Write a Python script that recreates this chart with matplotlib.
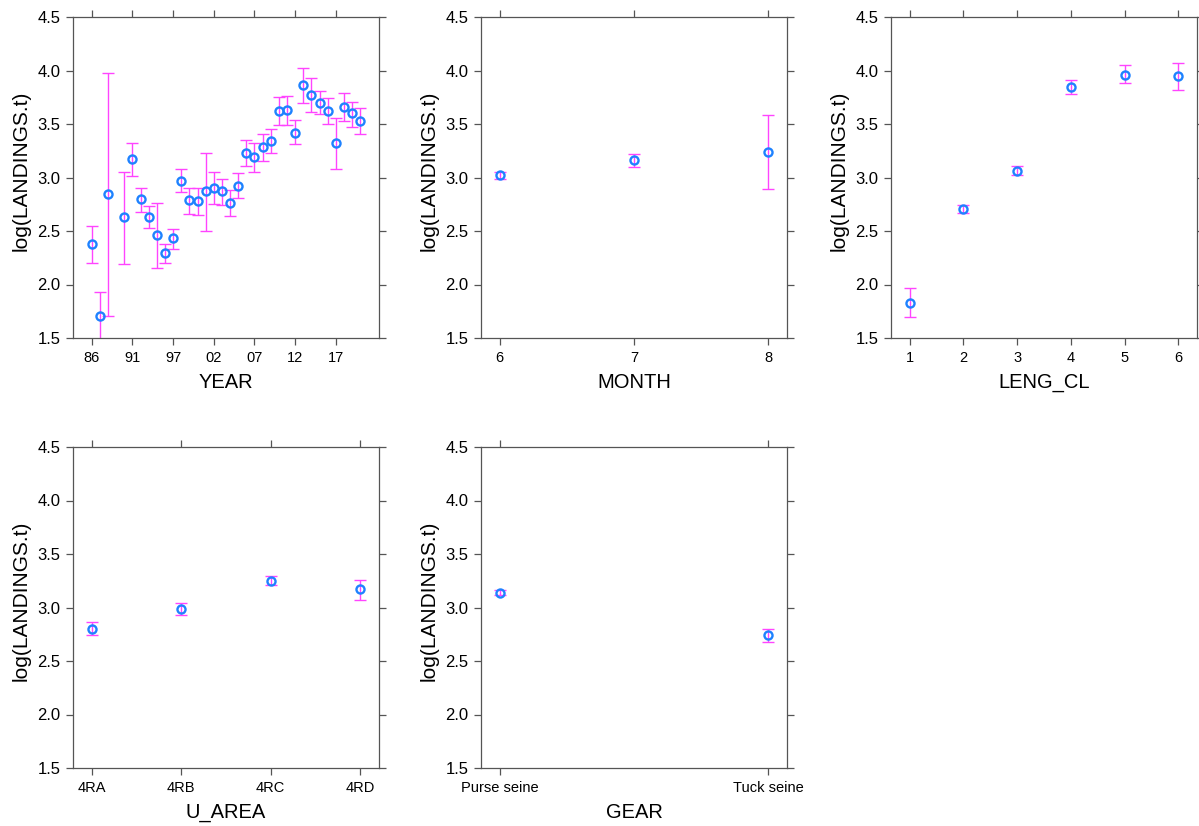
import numpy as np
import matplotlib
matplotlib.use("Agg")
import matplotlib.pyplot as plt

plt.rcParams['font.family'] = ['Liberation Sans', 'DejaVu Sans']

nan = np.nan

year_levels = ['86', '87', '88', '89', '90', '91', '93', '94', '95', '96', '97',
               '98', '99', '00', '01', '02', '03', '04', '05', '06', '07', '08',
               '09', '10', '11', '12', '13', '14', '15', '16', '17', '18', '19', '20']
year_fit = [2.38, 1.71, 2.85, nan, 2.63, 3.17, 2.80, 2.63, 2.46, 2.29, 2.43, 2.97,
            2.79, 2.78, 2.87, 2.90, 2.87, 2.76, 2.92, 3.23, 3.19, 3.285, 3.34, 3.62,
            3.63, 3.42, 3.86, 3.77, 3.70, 3.62, 3.32, 3.66, 3.60, 3.53]
year_lo = [2.20, 1.45, 1.71, nan, 2.19, 3.01, 2.68, 2.53, 2.15, 2.20, 2.33, 2.86,
           2.66, 2.65, 2.50, 2.755, 2.74, 2.64, 2.81, 3.11, 3.05, 3.155, 3.23, 3.49,
           3.49, 3.31, 3.70, 3.61, 3.59, 3.50, 3.08, 3.525, 3.47, 3.41]
year_hi = [2.55, 1.93, 3.98, nan, 3.05, 3.32, 2.90, 2.73, 2.76, 2.38, 2.52, 3.08,
           2.90, 2.90, 3.23, 3.05, 2.99, 2.88, 3.04, 3.35, 3.32, 3.41, 3.45, 3.75,
           3.765, 3.535, 4.02, 3.93, 3.81, 3.74, 3.56, 3.79, 3.71, 3.65]

month_levels = ['6', '7', '8']
month_fit = [3.02, 3.16, 3.24]
month_lo = [2.99, 3.10, 2.89]
month_hi = [3.05, 3.22, 3.58]

leng_levels = ['1', '2', '3', '4', '5', '6']
leng_fit = [1.83, 2.71, 3.06, 3.85, 3.96, 3.95]
leng_lo = [1.70, 2.67, 3.02, 3.78, 3.88, 3.815]
leng_hi = [1.965, 2.74, 3.11, 3.91, 4.05, 4.07]

area_levels = ['4RA', '4RB', '4RC', '4RD']
area_fit = [2.80, 2.99, 3.25, 3.17]
area_lo = [2.74, 2.93, 3.21, 3.07]
area_hi = [2.86, 3.04, 3.29, 3.26]

gear_levels = ['Purse seine', 'Tuck seine']
gear_fit = [3.14, 2.74]
gear_lo = [3.12, 2.675]
gear_hi = [3.16, 2.80]

yticks = [1.5, 2.0, 2.5, 3.0, 3.5, 4.0, 4.5]
ylab = "log(LANDINGS.t)"
spine_col = '#555555'


def panel(rect, levels, fit, lo, hi, xlabel, tick_every=1):
    ax = fig.add_axes(rect)
    x = np.arange(len(levels))
    fit = np.array(fit)
    lo = np.array(lo)
    hi = np.array(hi)
    ax.errorbar(x, fit, yerr=[fit - lo, hi - fit], fmt='none', ecolor='#FF44FF',
                elinewidth=1.0, capsize=4, capthick=1.0, zorder=2)
    ax.plot(x, fit, 'o', ms=5.8, mfc='none', mec='#1E82FF', mew=1.7, zorder=3)
    pad = 0.07 * (len(levels) - 1)
    ax.set_xlim(-pad, len(levels) - 1 + pad)
    ax.set_ylim(1.5, 4.5)
    ax.set_yticks(yticks)
    ax.set_yticklabels([f"{v:.1f}" for v in yticks])
    ax.set_xticks(x[::tick_every])
    ax.set_xticklabels(levels[::tick_every])
    ax.tick_params(axis='both', direction='out', length=5, width=0.9, color=spine_col,
                   top=True, right=True, pad=4)
    ax.tick_params(axis='x', labelsize=10.5)
    ax.tick_params(axis='y', labelsize=12)
    for s in ax.spines.values():
        s.set_color(spine_col)
        s.set_linewidth(0.9)
    ax.set_xlabel(xlabel, fontsize=14.5, labelpad=6)
    ax.set_ylabel(ylab, fontsize=15, labelpad=5)
    ax.yaxis.label.set_y(0.52)
    return ax


fig = plt.figure(figsize=(11.99, 8.26), dpi=100)

w = 306 / 1199
h = 321 / 826
b1 = (826 - 338) / 826
b2 = (826 - 768) / 826
l1 = 73 / 1199
l2 = 481 / 1199
l3 = 891 / 1199

panel([l1, b1, w, h], year_levels, year_fit, year_lo, year_hi, 'YEAR', tick_every=5)
panel([l2, b1, w, h], month_levels, month_fit, month_lo, month_hi, 'MONTH')
panel([l3, b1, w, h], leng_levels, leng_fit, leng_lo, leng_hi, 'LENG_CL')
panel([l1, b2, w, h], area_levels, area_fit, area_lo, area_hi, 'U_AREA')
panel([l2, b2, w, h], gear_levels, gear_fit, gear_lo, gear_hi, 'GEAR')

plt.savefig('out.png', dpi=100)
